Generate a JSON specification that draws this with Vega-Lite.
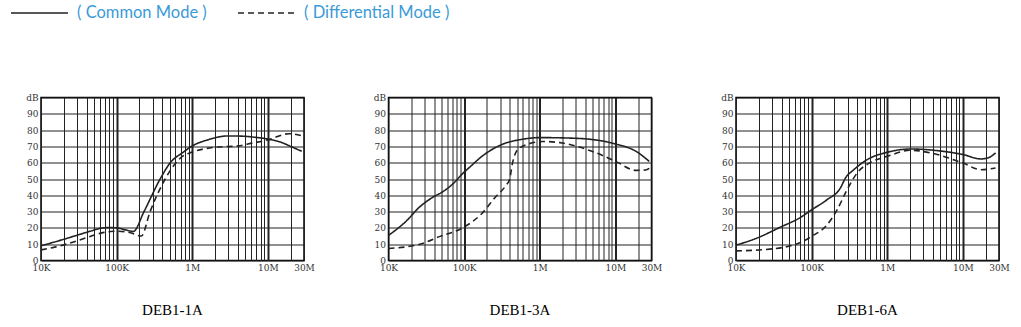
{
  "$schema": "https://vega.github.io/schema/vega-lite/v6.json",
  "padding": {"left": 10, "top": -16.5, "right": 5, "bottom": 5},
  "background": "white",
  "data": {"values": [
    {"panel": "DEB1-1A", "mode": "Common Mode", "f": 10000, "db": 9},
    {"panel": "DEB1-1A", "mode": "Common Mode", "f": 20000, "db": 13},
    {"panel": "DEB1-1A", "mode": "Common Mode", "f": 30000, "db": 15.5},
    {"panel": "DEB1-1A", "mode": "Common Mode", "f": 45000, "db": 18},
    {"panel": "DEB1-1A", "mode": "Common Mode", "f": 62000, "db": 19.8},
    {"panel": "DEB1-1A", "mode": "Common Mode", "f": 80000, "db": 20.2},
    {"panel": "DEB1-1A", "mode": "Common Mode", "f": 100000, "db": 20},
    {"panel": "DEB1-1A", "mode": "Common Mode", "f": 130000, "db": 18.8},
    {"panel": "DEB1-1A", "mode": "Common Mode", "f": 166000, "db": 17.8},
    {"panel": "DEB1-1A", "mode": "Common Mode", "f": 230000, "db": 30},
    {"panel": "DEB1-1A", "mode": "Common Mode", "f": 376000, "db": 50},
    {"panel": "DEB1-1A", "mode": "Common Mode", "f": 512000, "db": 60},
    {"panel": "DEB1-1A", "mode": "Common Mode", "f": 747000, "db": 66.2},
    {"panel": "DEB1-1A", "mode": "Common Mode", "f": 1000000, "db": 70.3},
    {"panel": "DEB1-1A", "mode": "Common Mode", "f": 1600000, "db": 74},
    {"panel": "DEB1-1A", "mode": "Common Mode", "f": 2960000, "db": 76.4},
    {"panel": "DEB1-1A", "mode": "Common Mode", "f": 4500000, "db": 76.3},
    {"panel": "DEB1-1A", "mode": "Common Mode", "f": 7000000, "db": 75.5},
    {"panel": "DEB1-1A", "mode": "Common Mode", "f": 10000000, "db": 74.5},
    {"panel": "DEB1-1A", "mode": "Common Mode", "f": 15000000, "db": 72.5},
    {"panel": "DEB1-1A", "mode": "Common Mode", "f": 20000000, "db": 70},
    {"panel": "DEB1-1A", "mode": "Common Mode", "f": 28000000, "db": 67},
    {"panel": "DEB1-1A", "mode": "Differential Mode", "f": 10000, "db": 6.5},
    {"panel": "DEB1-1A", "mode": "Differential Mode", "f": 20000, "db": 9.6},
    {"panel": "DEB1-1A", "mode": "Differential Mode", "f": 40000, "db": 14},
    {"panel": "DEB1-1A", "mode": "Differential Mode", "f": 62000, "db": 16.8},
    {"panel": "DEB1-1A", "mode": "Differential Mode", "f": 83000, "db": 17.8},
    {"panel": "DEB1-1A", "mode": "Differential Mode", "f": 100000, "db": 18},
    {"panel": "DEB1-1A", "mode": "Differential Mode", "f": 153000, "db": 17},
    {"panel": "DEB1-1A", "mode": "Differential Mode", "f": 212000, "db": 15},
    {"panel": "DEB1-1A", "mode": "Differential Mode", "f": 277000, "db": 30},
    {"panel": "DEB1-1A", "mode": "Differential Mode", "f": 438000, "db": 50},
    {"panel": "DEB1-1A", "mode": "Differential Mode", "f": 608000, "db": 60},
    {"panel": "DEB1-1A", "mode": "Differential Mode", "f": 747000, "db": 64},
    {"panel": "DEB1-1A", "mode": "Differential Mode", "f": 1000000, "db": 66.5},
    {"panel": "DEB1-1A", "mode": "Differential Mode", "f": 2000000, "db": 69.5},
    {"panel": "DEB1-1A", "mode": "Differential Mode", "f": 4000000, "db": 70.3},
    {"panel": "DEB1-1A", "mode": "Differential Mode", "f": 6200000, "db": 72},
    {"panel": "DEB1-1A", "mode": "Differential Mode", "f": 10000000, "db": 74},
    {"panel": "DEB1-1A", "mode": "Differential Mode", "f": 19000000, "db": 77.8},
    {"panel": "DEB1-1A", "mode": "Differential Mode", "f": 28000000, "db": 76.5},
    {"panel": "DEB1-3A", "mode": "Common Mode", "f": 10000, "db": 15.4},
    {"panel": "DEB1-3A", "mode": "Common Mode", "f": 17000, "db": 24},
    {"panel": "DEB1-3A", "mode": "Common Mode", "f": 26000, "db": 33},
    {"panel": "DEB1-3A", "mode": "Common Mode", "f": 37000, "db": 38.3},
    {"panel": "DEB1-3A", "mode": "Common Mode", "f": 53000, "db": 42.4},
    {"panel": "DEB1-3A", "mode": "Common Mode", "f": 73000, "db": 47.5},
    {"panel": "DEB1-3A", "mode": "Common Mode", "f": 94000, "db": 53},
    {"panel": "DEB1-3A", "mode": "Common Mode", "f": 120000, "db": 57.5},
    {"panel": "DEB1-3A", "mode": "Common Mode", "f": 173000, "db": 64},
    {"panel": "DEB1-3A", "mode": "Common Mode", "f": 321000, "db": 71.3},
    {"panel": "DEB1-3A", "mode": "Common Mode", "f": 594000, "db": 74.4},
    {"panel": "DEB1-3A", "mode": "Common Mode", "f": 1000000, "db": 75.4},
    {"panel": "DEB1-3A", "mode": "Common Mode", "f": 2900000, "db": 75},
    {"panel": "DEB1-3A", "mode": "Common Mode", "f": 10000000, "db": 71.5},
    {"panel": "DEB1-3A", "mode": "Common Mode", "f": 18700000, "db": 67},
    {"panel": "DEB1-3A", "mode": "Common Mode", "f": 28000000, "db": 60.8},
    {"panel": "DEB1-3A", "mode": "Differential Mode", "f": 10000, "db": 7.4},
    {"panel": "DEB1-3A", "mode": "Differential Mode", "f": 26000, "db": 10},
    {"panel": "DEB1-3A", "mode": "Differential Mode", "f": 48000, "db": 14.8},
    {"panel": "DEB1-3A", "mode": "Differential Mode", "f": 100000, "db": 20.5},
    {"panel": "DEB1-3A", "mode": "Differential Mode", "f": 173000, "db": 29},
    {"panel": "DEB1-3A", "mode": "Differential Mode", "f": 260000, "db": 39},
    {"panel": "DEB1-3A", "mode": "Differential Mode", "f": 356000, "db": 46},
    {"panel": "DEB1-3A", "mode": "Differential Mode", "f": 400000, "db": 50},
    {"panel": "DEB1-3A", "mode": "Differential Mode", "f": 437000, "db": 60},
    {"panel": "DEB1-3A", "mode": "Differential Mode", "f": 510000, "db": 68},
    {"panel": "DEB1-3A", "mode": "Differential Mode", "f": 731000, "db": 71.7},
    {"panel": "DEB1-3A", "mode": "Differential Mode", "f": 1100000, "db": 73},
    {"panel": "DEB1-3A", "mode": "Differential Mode", "f": 1840000, "db": 72.3},
    {"panel": "DEB1-3A", "mode": "Differential Mode", "f": 4900000, "db": 67},
    {"panel": "DEB1-3A", "mode": "Differential Mode", "f": 10000000, "db": 60.9},
    {"panel": "DEB1-3A", "mode": "Differential Mode", "f": 18700000, "db": 55.3},
    {"panel": "DEB1-3A", "mode": "Differential Mode", "f": 25000000, "db": 55.5},
    {"panel": "DEB1-3A", "mode": "Differential Mode", "f": 29000000, "db": 57},
    {"panel": "DEB1-6A", "mode": "Common Mode", "f": 10000, "db": 9.4},
    {"panel": "DEB1-6A", "mode": "Common Mode", "f": 18800, "db": 13.7},
    {"panel": "DEB1-6A", "mode": "Common Mode", "f": 38000, "db": 20.3},
    {"panel": "DEB1-6A", "mode": "Common Mode", "f": 71000, "db": 26.4},
    {"panel": "DEB1-6A", "mode": "Common Mode", "f": 100000, "db": 31.1},
    {"panel": "DEB1-6A", "mode": "Common Mode", "f": 160000, "db": 37.3},
    {"panel": "DEB1-6A", "mode": "Common Mode", "f": 240000, "db": 44.5},
    {"panel": "DEB1-6A", "mode": "Common Mode", "f": 280000, "db": 50.6},
    {"panel": "DEB1-6A", "mode": "Common Mode", "f": 361000, "db": 55.7},
    {"panel": "DEB1-6A", "mode": "Common Mode", "f": 543000, "db": 61.9},
    {"panel": "DEB1-6A", "mode": "Common Mode", "f": 1000000, "db": 66.4},
    {"panel": "DEB1-6A", "mode": "Common Mode", "f": 2040000, "db": 68.4},
    {"panel": "DEB1-6A", "mode": "Common Mode", "f": 4600000, "db": 67.4},
    {"panel": "DEB1-6A", "mode": "Common Mode", "f": 10000000, "db": 65},
    {"panel": "DEB1-6A", "mode": "Common Mode", "f": 17300000, "db": 62.3},
    {"panel": "DEB1-6A", "mode": "Common Mode", "f": 22400000, "db": 63.3},
    {"panel": "DEB1-6A", "mode": "Common Mode", "f": 27000000, "db": 66},
    {"panel": "DEB1-6A", "mode": "Differential Mode", "f": 10000, "db": 5.9},
    {"panel": "DEB1-6A", "mode": "Differential Mode", "f": 28000, "db": 7},
    {"panel": "DEB1-6A", "mode": "Differential Mode", "f": 71000, "db": 11},
    {"panel": "DEB1-6A", "mode": "Differential Mode", "f": 100000, "db": 14.8},
    {"panel": "DEB1-6A", "mode": "Differential Mode", "f": 160000, "db": 21.9},
    {"panel": "DEB1-6A", "mode": "Differential Mode", "f": 217000, "db": 31.1},
    {"panel": "DEB1-6A", "mode": "Differential Mode", "f": 294000, "db": 43.4},
    {"panel": "DEB1-6A", "mode": "Differential Mode", "f": 400000, "db": 53.7},
    {"panel": "DEB1-6A", "mode": "Differential Mode", "f": 601000, "db": 60.2},
    {"panel": "DEB1-6A", "mode": "Differential Mode", "f": 1000000, "db": 63.9},
    {"panel": "DEB1-6A", "mode": "Differential Mode", "f": 2040000, "db": 67.6},
    {"panel": "DEB1-6A", "mode": "Differential Mode", "f": 3760000, "db": 66},
    {"panel": "DEB1-6A", "mode": "Differential Mode", "f": 10000000, "db": 59.8},
    {"panel": "DEB1-6A", "mode": "Differential Mode", "f": 17300000, "db": 55.7},
    {"panel": "DEB1-6A", "mode": "Differential Mode", "f": 27000000, "db": 56.8}
  ]},
  "facet": {
    "column": {
      "field": "panel", "type": "nominal",
      "sort": ["DEB1-1A", "DEB1-3A", "DEB1-6A"],
      "header": {
        "title": null, "labelOrient": "bottom",
        "labelFont": "Liberation Serif", "labelFontSize": 15, "labelColor": "#000",
        "labelPadding": 29
      }
    }
  },
  "spacing": 55.5,
  "resolve": {"axis": {"x": "independent", "y": "independent"}},
  "spec": {
    "width": 263,
    "height": 163,
    "mark": {"type": "line", "interpolate": "monotone", "color": "#222", "strokeWidth": 1.6},
    "encoding": {
      "x": {
        "field": "f", "type": "quantitative",
        "scale": {"type": "log", "domain": [10000, 30000000], "nice": false},
        "axis": {
          "values": [10000, 20000, 30000, 40000, 50000, 60000, 70000, 80000, 90000,
                     100000, 200000, 300000, 400000, 500000, 600000, 700000, 800000, 900000,
                     1000000, 2000000, 3000000, 4000000, 5000000, 6000000, 7000000, 8000000, 9000000,
                     10000000, 20000000, 30000000],
          "labelExpr": "datum.value == 10000 ? '10K' : datum.value == 100000 ? '100K' : datum.value == 1000000 ? '1M' : datum.value == 10000000 ? '10M' : datum.value == 30000000 ? '30M' : ''",
          "grid": true, "gridColor": "#222",
          "gridWidth": {"condition": {"test": "datum.value == 100000 || datum.value == 1000000 || datum.value == 10000000", "value": 2}, "value": 1},
          "ticks": false, "domain": false, "title": null,
          "labelFont": "DejaVu Serif", "labelFontSize": 9, "labelColor": "#333",
          "labelPadding": 3, "labelOverlap": false, "labelFlush": false
        }
      },
      "y": {
        "field": "db", "type": "quantitative",
        "scale": {"domain": [0, 100], "nice": false},
        "axis": {
          "values": [0, 10, 20, 30, 40, 50, 60, 70, 80, 90, 100],
          "labelExpr": "datum.value == 100 ? 'dB' : datum.label",
          "grid": true, "gridColor": "#222", "gridWidth": 1.2,
          "ticks": false, "domain": false, "title": null,
          "labelFont": "DejaVu Serif", "labelFontSize": 9, "labelColor": "#333",
          "labelPadding": 3
        }
      },
      "strokeDash": {
        "field": "mode", "type": "nominal",
        "scale": {"domain": ["Common Mode", "Differential Mode"], "range": [[1, 0], [6, 4]]},
        "legend": {
          "orient": "none", "legendX": -31, "legendY": -114,
          "direction": "horizontal", "title": null,
          "symbolType": "stroke", "symbolSize": 3249, "symbolStrokeWidth": 1.5,
          "symbolStrokeColor": "#222",
          "labelFont": "Lato", "labelFontSize": 16.5, "labelColor": "#3b9ad8",
          "labelExpr": "'( ' + datum.label + ' )'",
          "labelOffset": 8, "columnPadding": 28, "labelLimit": 300
        }
      }
    }
  },
  "config": {"view": {"stroke": "#000", "strokeWidth": 1.5}}
}
